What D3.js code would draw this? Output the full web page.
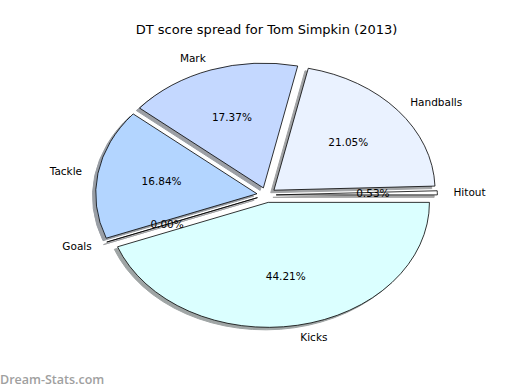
<!DOCTYPE html>
<html>
<head>
<meta charset="utf-8">
<script src="https://cdn.jsdelivr.net/npm/d3@7"></script>
<style>
  body { margin: 0; background: #fff; }
  text { font-family: "DejaVu Sans", sans-serif; fill: #000; }
</style>
</head>
<body>
<div id="chart"></div>
<script>
  // Data (matplotlib order, counter-clockwise from 3 o'clock)
  const categories = ["Hitout", "Handballs", "Mark", "Tackle", "Goals", "Kicks"];
  const points = [1, 40, 33, 32, 0, 84];
  const colors = ["#ffffff", "#eaf2ff", "#c4d8ff", "#b3d5ff", "#e8f0ff", "#dbffff"];
  const explode = [0.06, 0.06, 0.06, 0.06, 0.06, 0.06];

  const width = 520, height = 390;

  const svg = d3.select("#chart")
    .append("svg")
    .attr("width", width)
    .attr("height", height);

  // Axes area like matplotlib default subplot
  const x = d3.scaleLinear().domain([-1.25, 1.25]).range([65, 468]);
  const y = d3.scaleLinear().domain([-1.25, 1.25]).range([351, 39]);
  const rx = x(1) - x(0);
  const ry = y(0) - y(1);

  const total = d3.sum(points);

  // counter-clockwise, starting at 3 o'clock
  const pie = d3.pie()
    .sort(null)
    .value(d => d)
    .startAngle(Math.PI / 2)
    .endAngle(Math.PI / 2 - 2 * Math.PI);

  const arcs = pie(points);
  const arc = d3.arc().innerRadius(0).outerRadius(1);

  // mid angle in matplotlib terms (radians, ccw from +x)
  function midTheta(d) {
    const a = (d.startAngle + d.endAngle) / 2;
    return Math.PI / 2 - a;
  }

  const shade = c => {
    const r = d3.rgb(c);
    return d3.rgb(r.r * 0.3, r.g * 0.3, r.b * 0.3).toString();
  };

  // Shadows first (lower zorder)
  svg.append("g").selectAll("path")
    .data(arcs)
    .enter()
    .append("path")
    .attr("transform", (d, i) => {
      const t = midTheta(d);
      const cx = x(explode[i] * Math.cos(t) - 0.02);
      const cy = y(explode[i] * Math.sin(t) - 0.02);
      return `translate(${cx},${cy}) scale(${rx},${ry})`;
    })
    .attr("d", arc)
    .attr("fill", (d, i) => shade(colors[i]))
    .attr("stroke", (d, i) => shade(colors[i]))
    .attr("stroke-width", 1)
    .attr("vector-effect", "non-scaling-stroke")
    .attr("opacity", 0.5);

  // Wedges
  svg.append("g").selectAll("path")
    .data(arcs)
    .enter()
    .append("path")
    .attr("transform", (d, i) => {
      const t = midTheta(d);
      const cx = x(explode[i] * Math.cos(t));
      const cy = y(explode[i] * Math.sin(t));
      return `translate(${cx},${cy}) scale(${rx},${ry})`;
    })
    .attr("d", arc)
    .attr("fill", (d, i) => colors[i])
    .attr("stroke", "#000")
    .attr("stroke-width", 0.8)
    .attr("vector-effect", "non-scaling-stroke");

  // Category labels (labeldistance 1.1)
  svg.append("g").selectAll("text")
    .data(arcs)
    .enter()
    .append("text")
    .attr("x", (d, i) => x((1.1 + explode[i]) * Math.cos(midTheta(d))))
    .attr("y", (d, i) => y((1.1 + explode[i]) * Math.sin(midTheta(d))))
    .attr("dy", "0.35em")
    .attr("text-anchor", d => Math.cos(midTheta(d)) > 0 ? "start" : "end")
    .style("font-size", "10.5px")
    .text((d, i) => categories[i]);

  // Percent labels (pctdistance 0.6)
  svg.append("g").selectAll("text")
    .data(arcs)
    .enter()
    .append("text")
    .attr("x", (d, i) => x((0.6 + explode[i]) * Math.cos(midTheta(d))))
    .attr("y", (d, i) => y((0.6 + explode[i]) * Math.sin(midTheta(d))))
    .attr("dy", "0.35em")
    .attr("text-anchor", "middle")
    .style("font-size", "10.5px")
    .text(d => (100 * d.value / total).toFixed(2) + "%");

  // Title
  svg.append("text")
    .attr("x", (x.range()[0] + x.range()[1]) / 2)
    .attr("y", 34)
    .attr("text-anchor", "middle")
    .style("font-size", "13px")
    .text("DT score spread for Tom Simpkin (2013)");

  // Watermark
  svg.append("text")
    .attr("x", 0)
    .attr("y", 384)
    .style("font-size", "12.5px")
    .style("font-family", "'Open Sans', 'DejaVu Sans', sans-serif")
    .style("font-weight", 600)
    .style("fill", "#a0a0a0")
    .text("Dream-Stats.com");
</script>
</body>
</html>
